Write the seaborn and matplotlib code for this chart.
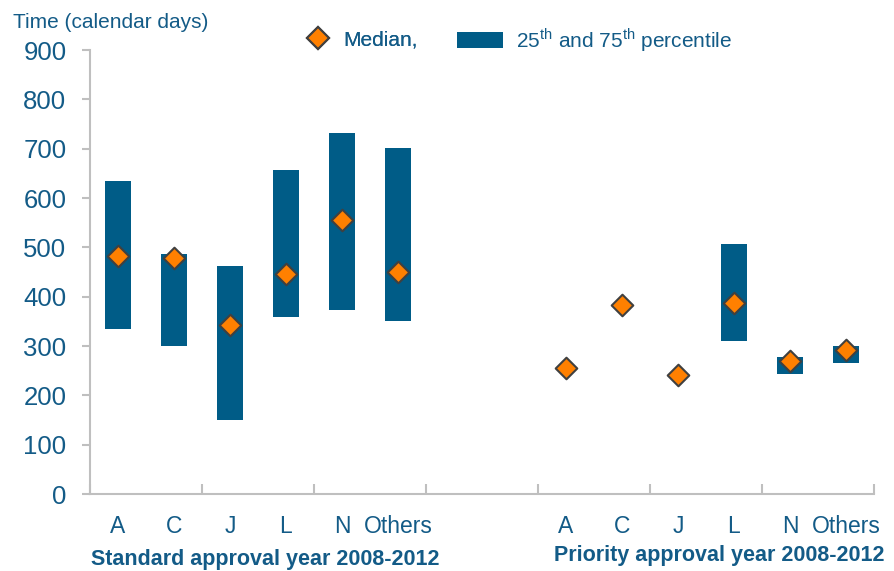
import numpy as np
import pandas as pd
import matplotlib
matplotlib.use("Agg")
import matplotlib.pyplot as plt
import seaborn as sns
from matplotlib.lines import Line2D
from matplotlib.patches import Patch

# ---- data ----
groups = ["Standard approval year 2008-2012", "Priority approval year 2008-2012"]
categories = ["A", "C", "J", "L", "N", "Others"]
std_p25 = [335, 301, 151, 359, 372, 350]
std_p75 = [634, 486, 462, 656, 732, 701]
std_median = [482, 478, 342, 445, 555, 451]
pri_p25 = [np.nan, np.nan, np.nan, 310, 243, 265]
pri_p75 = [np.nan, np.nan, np.nan, 507, 277, 300]
pri_median = [255, 384, 242, 387, 269, 291]
yticks = [0, 100, 200, 300, 400, 500, 600, 700, 800, 900]

bar_color = "#005C87"
orange = "#FF8000"
text_color = "#135B87"
axis_gray = "#BFBFBF"

sns.set_style("white")
plt.rcParams["font.family"] = ["Liberation Sans", "DejaVu Sans"]
plt.rcParams["mathtext.fontset"] = "custom"
plt.rcParams["mathtext.rm"] = "Liberation Sans"

# build table
std_keys = ["S:" + c for c in categories]
pri_keys = ["P:" + c for c in categories]
order = std_keys + ["gap1", "gap2"] + pri_keys
rows = []
for keys, p25, p75, med in [(std_keys, std_p25, std_p75, std_median),
                            (pri_keys, pri_p25, pri_p75, pri_median)]:
    for k, a, b, m in zip(keys, p25, p75, med):
        rows.append({"key": k, "p25": a, "p75": b, "median": m})
df = pd.DataFrame(rows)
df["height"] = df["p75"] - df["p25"]
bars_df = df.dropna(subset=["height"]).copy()
bars_df["pos"] = bars_df["key"].map(order.index)
bars_df = bars_df.sort_values("pos")

fig = plt.figure(figsize=(8.95, 5.71), dpi=100)
ax = fig.add_axes([90 / 895, 1 - 494 / 571, (874 - 90) / 895, (494 - 50) / 571])

sns.barplot(data=bars_df, x="key", y="height", order=order,
            bottom=bars_df["p25"].to_numpy(), width=0.47, color=bar_color,
            saturation=1, errorbar=None, linewidth=0, ax=ax, zorder=2)
sns.stripplot(data=df, x="key", y="median", order=order, jitter=False,
              marker="D", size=11, color=orange, edgecolor="#404040",
              linewidth=1.5, ax=ax, zorder=3)

ax.set_xlabel("")
ax.set_ylabel("")
ax.set_xlim(-0.5, len(order) - 0.5)
ax.set_ylim(0, 900)
ax.set_yticks(yticks)
ax.set_yticklabels([str(v) for v in yticks])

label_pos = [order.index(k) for k in std_keys + pri_keys]
ax.set_xticks(label_pos)
ax.set_xticklabels(categories + categories)
ax.set_xticks(np.arange(-0.5, len(order), 2), minor=True)

ax.tick_params(axis="x", which="major", bottom=True, length=0, pad=15,
               labelsize=16.5, labelcolor=text_color)
ax.tick_params(axis="x", which="minor", bottom=True, length=7, width=1.5,
               direction="in", color=axis_gray)
ax.tick_params(axis="y", left=True, length=6, width=1.5, direction="out",
               color=axis_gray, pad=11, labelsize=18.5, labelcolor=text_color)

for s in ["top", "right"]:
    ax.spines[s].set_visible(False)
for s in ["left", "bottom"]:
    ax.spines[s].set_color(axis_gray)
    ax.spines[s].set_linewidth(1.5)

# titles
fig.text(13 / 895, 1 - 23 / 571, "Time (calendar days)", fontsize=15,
         color=text_color, ha="left", va="center")
fig.text(265.5 / 895, 1 - 559 / 571, groups[0], fontsize=15.5, fontweight="bold",
         color=text_color, ha="center", va="center")
fig.text(719 / 895, 1 - 555 / 571, groups[1], fontsize=15.5, fontweight="bold",
         color=text_color, ha="center", va="center")

# legend
h1 = Line2D([], [], linestyle="none", marker="D", markersize=11,
            markerfacecolor=orange, markeredgecolor="#404040", markeredgewidth=1.5)
leg1 = fig.legend(handles=[h1], labels=["Median,"], loc="center left",
                  bbox_to_anchor=(307.5 / 895, 1 - 40 / 571), frameon=False,
                  fontsize=15, handlelength=1.0, handletextpad=0.7, borderpad=0,
                  borderaxespad=0, labelcolor=text_color)
h2 = Patch(facecolor=bar_color, edgecolor="none")
leg2 = fig.legend(handles=[h2],
                  labels=[r"25$^{\mathrm{th}}$ and 75$^{\mathrm{th}}$ percentile"],
                  loc="center left", bbox_to_anchor=(457 / 895, 1 - 40 / 571),
                  frameon=False, fontsize=15, handlelength=2.2, handleheight=0.77,
                  handletextpad=0.63, borderpad=0, borderaxespad=0,
                  labelcolor=text_color)
fig.add_artist(leg1)

fig.savefig("out.png", dpi=100)
